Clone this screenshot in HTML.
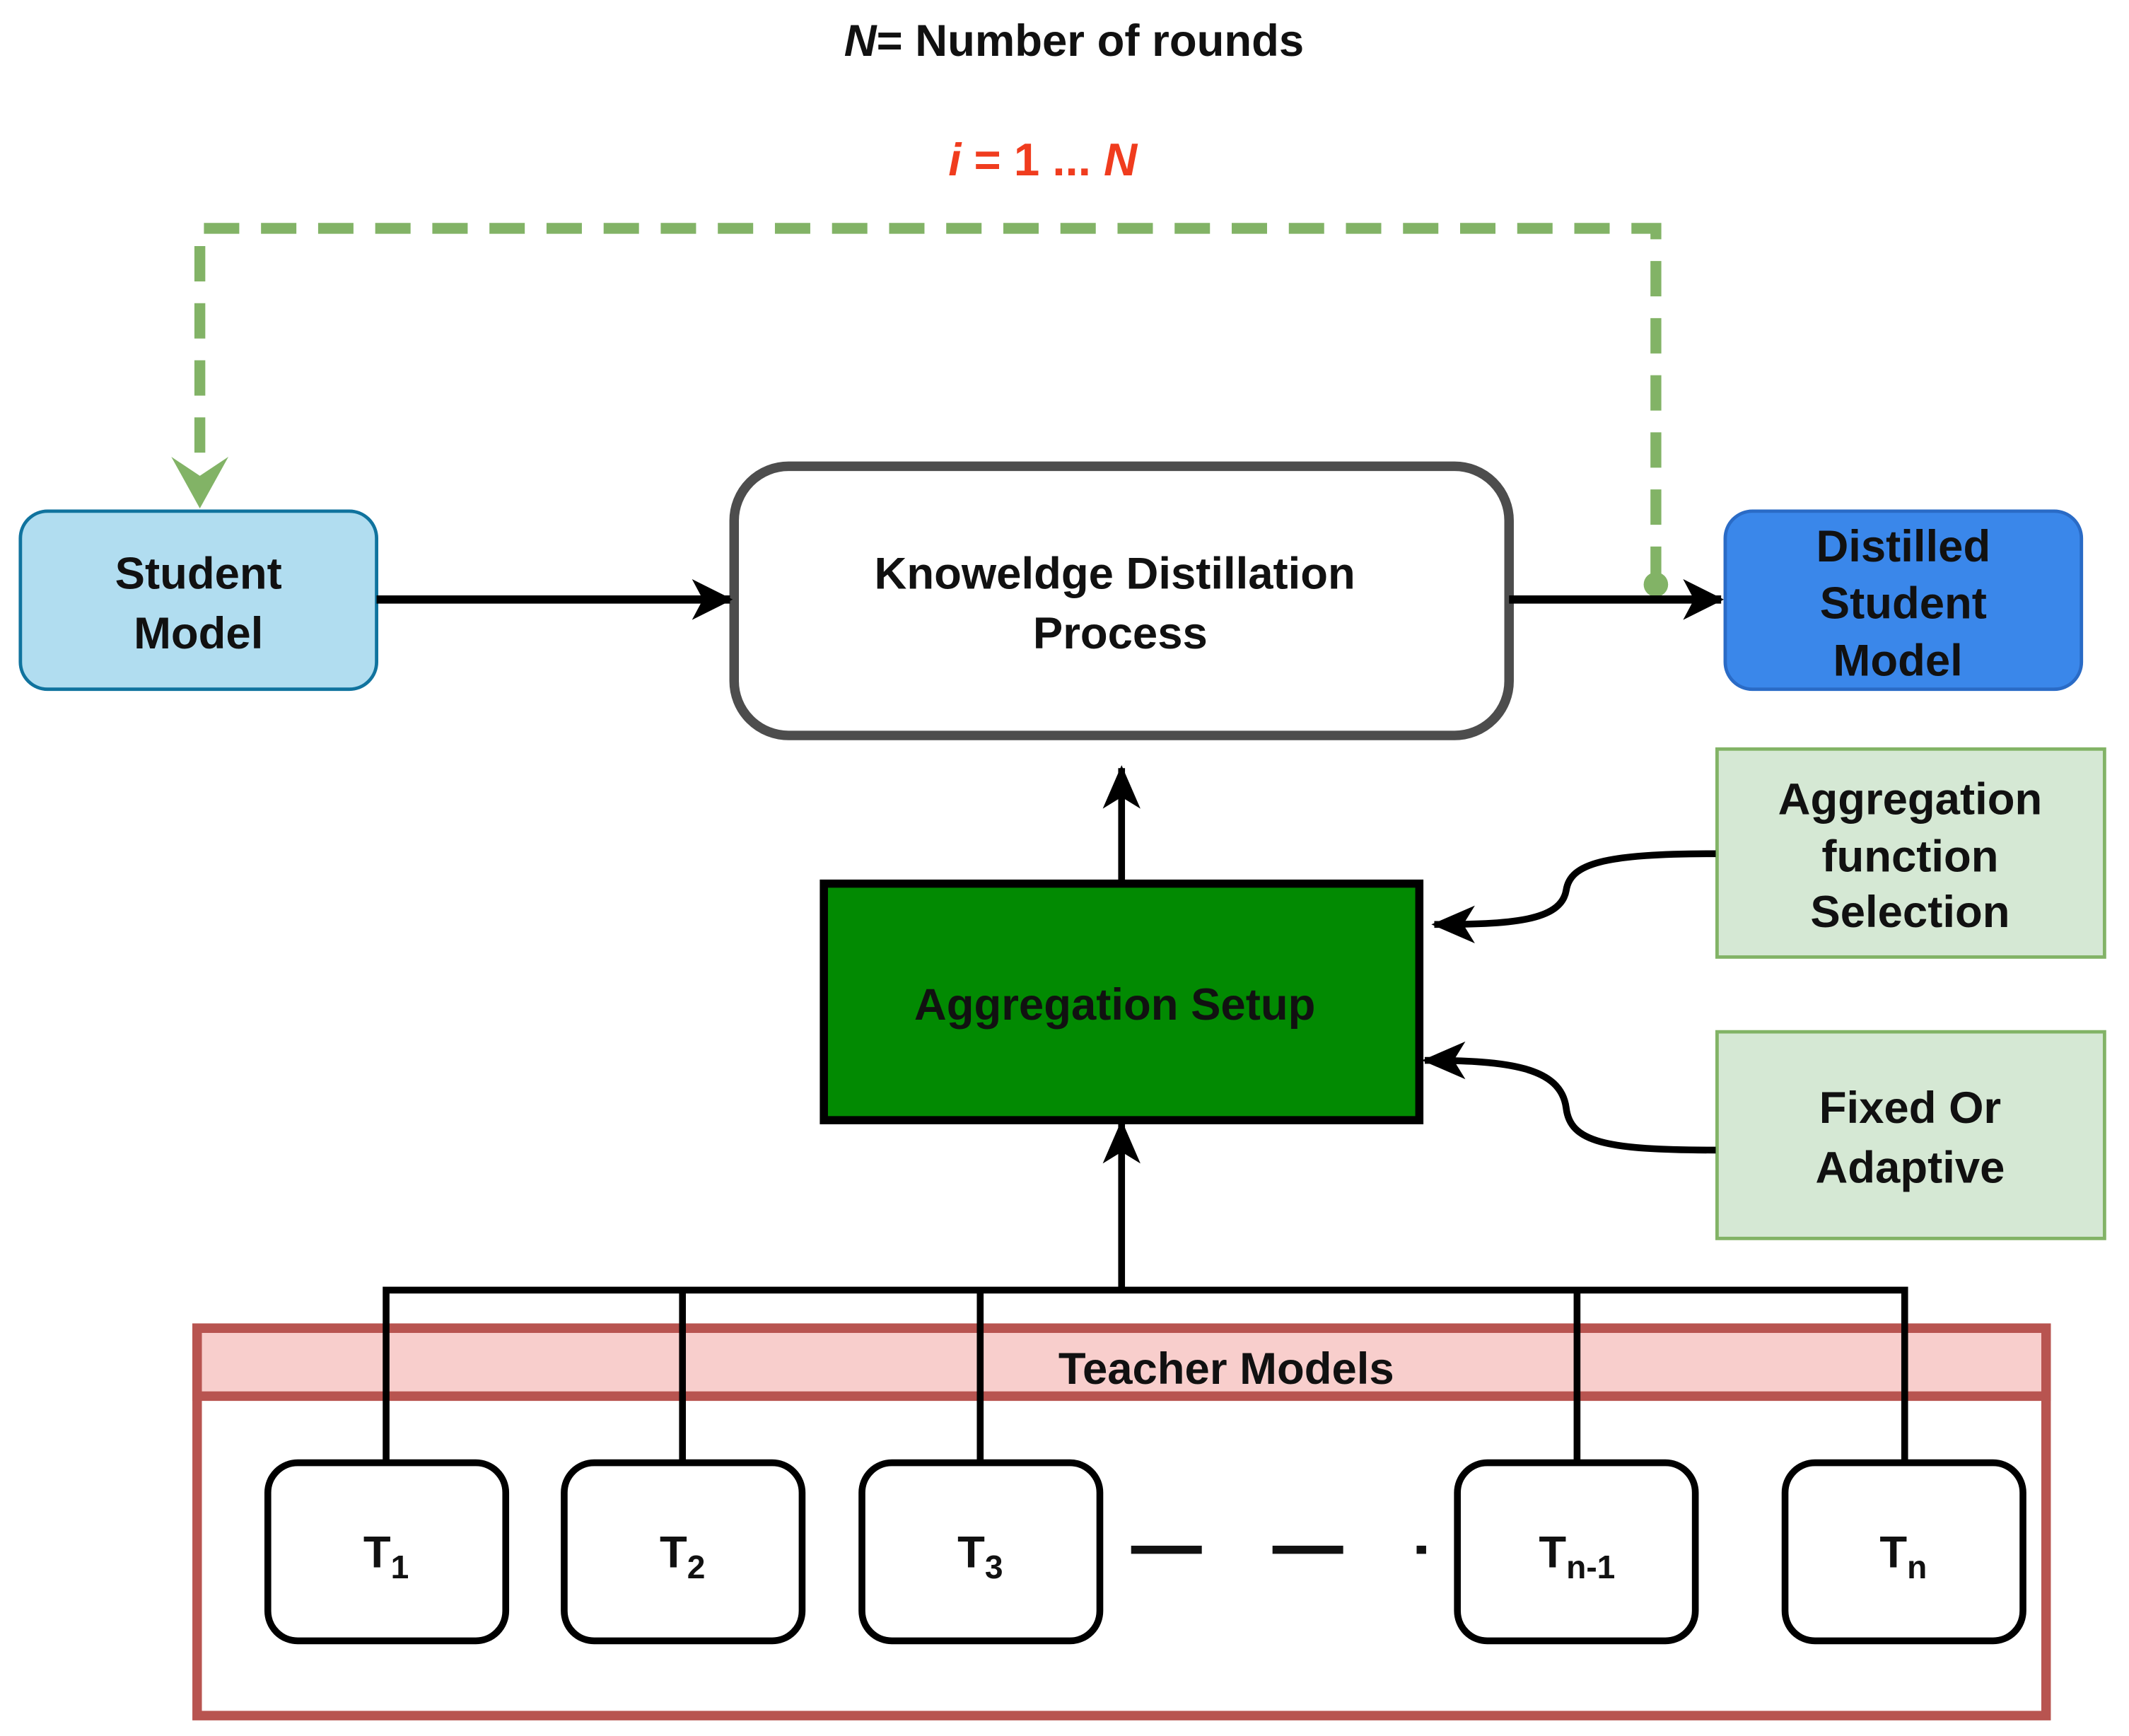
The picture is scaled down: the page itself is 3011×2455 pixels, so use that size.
<!DOCTYPE html>
<html><head><meta charset="utf-8"><style>
html,body{margin:0;padding:0;background:#fff;}
svg{display:block;}
text{font-family:"Liberation Sans",sans-serif;font-weight:bold;}
</style></head><body>
<svg width="3011" height="2455" viewBox="0 0 1566 1277" preserveAspectRatio="none" xmlns="http://www.w3.org/2000/svg">
<defs>
<marker id="arw" viewBox="0 0 30 30" refX="28" refY="15" markerWidth="30" markerHeight="30" markerUnits="userSpaceOnUse" orient="auto">
<path d="M0,0 L30,15 L0,30 L8,15 Z" fill="#000"/></marker>
<marker id="ar" viewBox="0 0 30 30" refX="28" refY="15" markerWidth="32" markerHeight="32" markerUnits="userSpaceOnUse" orient="auto">
<path d="M0,2 L30,15 L0,28 L8,15 Z" fill="#000"/></marker>
</defs>
<text x="790" y="41" font-size="33" text-anchor="middle" fill="#111"><tspan font-style="italic">N</tspan>= Number of rounds</text>
<text x="767" y="129" font-size="34" text-anchor="middle" fill="#f03c1e" font-style="italic">i<tspan font-style="normal"> = 1 ... </tspan>N</text>
<path d="M1218,428 L1218,168 L147,168 L147,345" fill="none" stroke="#82b366" stroke-width="8" stroke-dasharray="26,16"/>
<path d="M126,336 L147,374 L168,336 L147,350 Z" fill="#82b366"/>
<circle cx="1218" cy="430" r="9" fill="#82b366"/>
<rect x="15" y="376" width="262" height="131" rx="20" fill="#b1ddf0" stroke="#10739e" stroke-width="2.5"/>
<text x="146" y="433" font-size="33" text-anchor="middle" fill="#111">Student</text>
<text x="146" y="477" font-size="33" text-anchor="middle" fill="#111">Model</text>
<rect x="540" y="343" width="570" height="198" rx="40" fill="#fff" stroke="#4d4d4d" stroke-width="7"/>
<text x="820" y="433" font-size="33" text-anchor="middle" fill="#111">Knoweldge Distillation</text>
<text x="824" y="477" font-size="33" text-anchor="middle" fill="#111">Process</text>
<line x1="277" y1="441" x2="537" y2="441" stroke="#000" stroke-width="6" marker-end="url(#arw)"/>
<line x1="1110" y1="441" x2="1266" y2="441" stroke="#000" stroke-width="6" marker-end="url(#arw)"/>
<rect x="1269" y="376" width="262" height="131" rx="20" fill="#3a87ea" stroke="#2a6bc6" stroke-width="2.5"/>
<text x="1400" y="413" font-size="33" text-anchor="middle" fill="#111">Distilled</text>
<text x="1400" y="455" font-size="33" text-anchor="middle" fill="#111">Student</text>
<text x="1396" y="497" font-size="33" text-anchor="middle" fill="#111">Model</text>
<line x1="825" y1="649" x2="825" y2="565" stroke="#000" stroke-width="5" marker-end="url(#ar)"/>
<rect x="606" y="650" width="438" height="174" fill="#028a02" stroke="#000" stroke-width="6"/>
<text x="820" y="750" font-size="33" text-anchor="middle" fill="#111">Aggregation Setup</text>
<rect x="1263" y="551" width="285" height="153" fill="#d5e8d4" stroke="#82b366" stroke-width="2.5"/>
<text x="1405" y="599" font-size="33" text-anchor="middle" fill="#111">Aggregation</text>
<text x="1405" y="641" font-size="33" text-anchor="middle" fill="#111">function</text>
<text x="1405" y="682" font-size="33" text-anchor="middle" fill="#111">Selection</text>
<rect x="1263" y="759" width="285" height="152" fill="#d5e8d4" stroke="#82b366" stroke-width="2.5"/>
<text x="1405" y="826" font-size="33" text-anchor="middle" fill="#111">Fixed Or</text>
<text x="1405" y="870" font-size="33" text-anchor="middle" fill="#111">Adaptive</text>
<path d="M1262,628 C1180,628 1155,635 1152,655 C1148,678 1110,680 1055,680" fill="none" stroke="#000" stroke-width="5" marker-end="url(#ar)"/>
<path d="M1262,846 C1180,846 1155,840 1152,815 C1148,785 1110,780 1048,780" fill="none" stroke="#000" stroke-width="5" marker-end="url(#ar)"/>
<rect x="145" y="977" width="1360" height="285" fill="#fff" stroke="#b85450" stroke-width="7"/>
<rect x="145" y="977" width="1360" height="50" fill="#f8cecc" stroke="#b85450" stroke-width="7"/>
<text x="902" y="1018" font-size="33" text-anchor="middle" fill="#111">Teacher  Models</text>
<path d="M284,1076 V949 H1401 V1076 M502,949 V1076 M721,949 V1076 M1160,949 V1076" fill="none" stroke="#000" stroke-width="5"/>
<line x1="825" y1="949" x2="825" y2="826" stroke="#000" stroke-width="5" marker-end="url(#ar)"/>
<g fill="#fff" stroke="#000" stroke-width="5">
<rect x="197" y="1076" width="175" height="131" rx="22"/>
<rect x="415" y="1076" width="175" height="131" rx="22"/>
<rect x="634" y="1076" width="175" height="131" rx="22"/>
<rect x="1072" y="1076" width="175" height="131" rx="22"/>
<rect x="1313" y="1076" width="175" height="131" rx="22"/>
</g>
<g font-size="33" fill="#111" text-anchor="middle">
<text x="284" y="1153">T<tspan font-size="24" dy="8">1</tspan></text>
<text x="502" y="1153">T<tspan font-size="24" dy="8">2</tspan></text>
<text x="721" y="1153">T<tspan font-size="24" dy="8">3</tspan></text>
<text x="1160" y="1153">T<tspan font-size="24" dy="8">n-1</tspan></text>
<text x="1400" y="1153">T<tspan font-size="24" dy="8">n</tspan></text>
</g>
<g stroke="#111" stroke-width="6">
<line x1="832" y1="1140" x2="884" y2="1140"/>
<line x1="936" y1="1140" x2="988" y2="1140"/>
<line x1="1042" y1="1140" x2="1049" y2="1140"/>
</g>
</svg>
</body></html>
